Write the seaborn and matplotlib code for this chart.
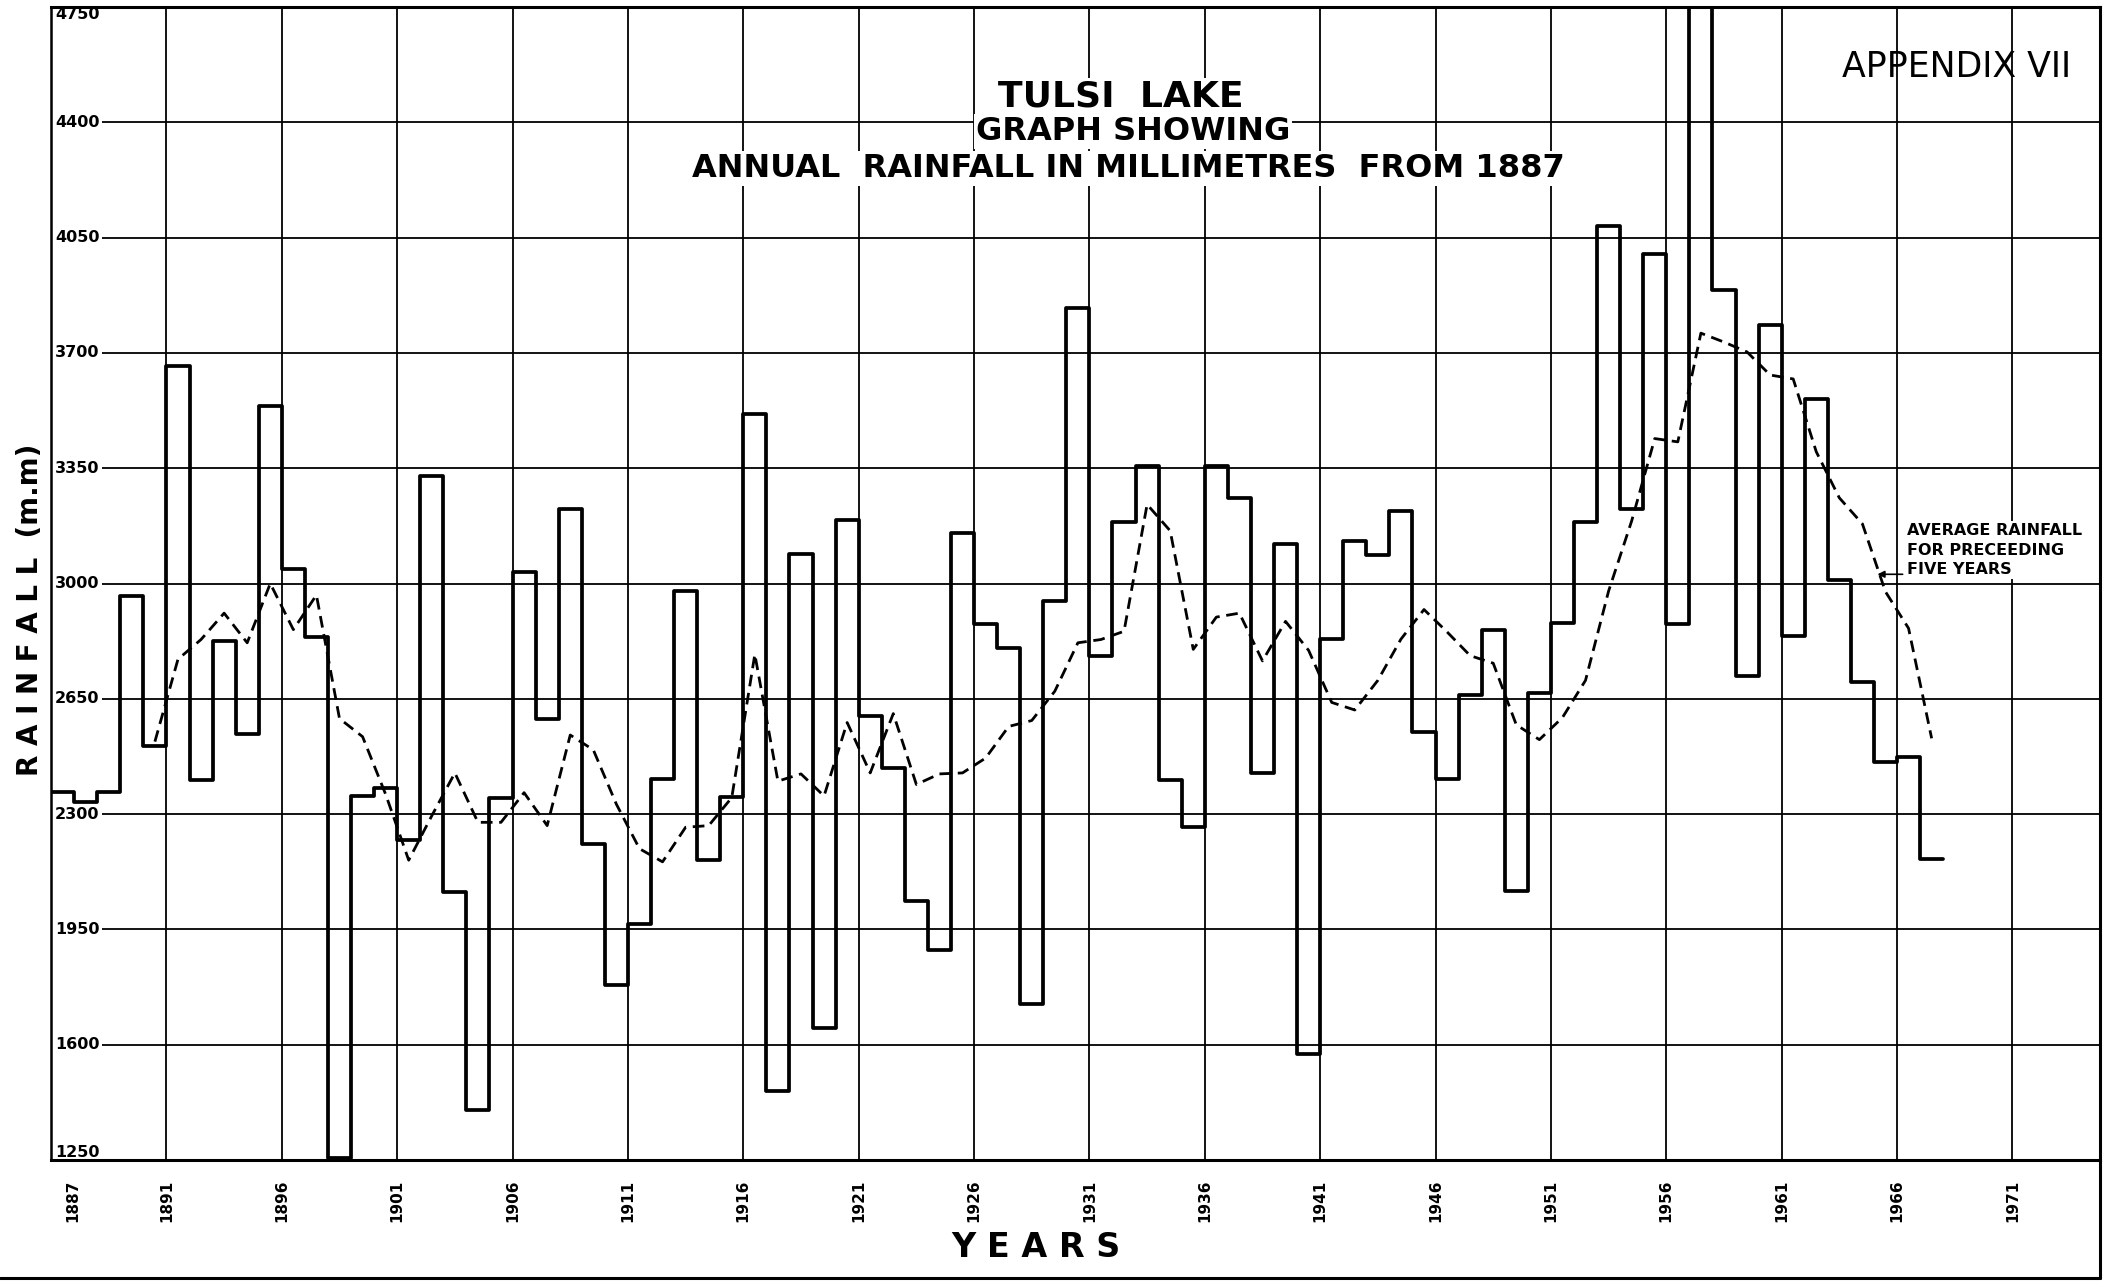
"""Tulsi Lake annual rainfall since 1887 (Appendix VII), redrawn as a step chart."""

import matplotlib.pyplot as plt
import pandas as pd
import seaborn as sns
from matplotlib.lines import Line2D
from matplotlib.transforms import ScaledTranslation


OUT_PATH = "out.png"

# annual rainfall in mm, one value per year
YEARS = list(range(1887, 1969))
RAINFALL = [
    2368, 2338, 2368, 2961, 2508, 3661, 2402, 2826, 2542, 3540,  # 1887-1896
    3045, 2837, 1255, 2356, 2380, 2221, 3327, 2063, 1401, 2350,  # 1897-1906
    3034, 2589, 3226, 2210, 1781, 1966, 2406, 2977, 2160, 2352,  # 1907-1916
    3515, 1458, 3090, 1652, 3192, 2598, 2440, 2036, 1887, 3153,  # 1917-1926
    2876, 2803, 1724, 2948, 3835, 2781, 3187, 3357, 2402, 2262,  # 1927-1936
    3357, 3260, 2424, 3120, 1571, 2831, 3129, 3086, 3219, 2548,  # 1937-1946
    2408, 2661, 2860, 2067, 2668, 2880, 3187, 4084, 3226, 4000,  # 1947-1956
    2876, 4750, 3892, 2718, 3786, 2842, 3560, 3011, 2702, 2458,  # 1957-1966
    2474, 2164,                                                  # 1967-1968
]

# dashed curve: average rainfall for the preceeding five years
AVG_YEARS = list(range(1891, 1969))
AVG_RAINFALL = [
    2520, 2770, 2830, 2910, 2820, 3000, 2860, 2965, 2590, 2535,  # 1891-1900
    2360, 2160, 2295, 2425, 2275, 2275, 2365, 2265, 2540, 2495,  # 1901-1910
    2330, 2195, 2155, 2260, 2265, 2350, 2785, 2400, 2422, 2355,  # 1911-1920
    2578, 2425, 2605, 2390, 2422, 2425, 2470, 2566, 2584, 2673,  # 1921-1930
    2820, 2830, 2855, 3240, 3160, 2800, 2898, 2910, 2765, 2885,  # 1931-1940
    2797, 2639, 2616, 2706, 2831, 2921, 2853, 2781, 2758, 2571,  # 1941-1950
    2526, 2593, 2706, 2977, 3190, 3440, 3430, 3760, 3733, 3703,  # 1951-1960
    3633, 3621, 3400, 3260, 3181, 2975, 2864, 2530,              # 1961-1968
]

Y_TICKS = [1250, 1600, 1950, 2300, 2650, 3000, 3350, 3700, 4050, 4400, 4750]
GRID_YEARS = list(range(1887, 1973, 5))
YEAR_LABELS = [
    "1887", "1891", "1896", "1901", "1906", "1911", "1916", "1921", "1926",
    "1931", "1936", "1941", "1946", "1951", "1956", "1961", "1966", "1971",
]

TITLE_LINES = [
    ("TULSI  LAKE", 0.522, 0.922, 26),
    ("GRAPH SHOWING", 0.528, 0.892, 23),
    ("ANNUAL  RAINFALL IN MILLIMETRES  FROM 1887", 0.526, 0.860, 23),
]


def main():
    sns.set_theme(style="white", rc={
        "text.color": "black",
        "xtick.color": "black",
        "ytick.color": "black",
        "axes.labelcolor": "black",
    })
    plt.rcParams["font.family"] = ["DejaVu Sans"]

    fig = plt.figure(figsize=(21.1, 12.83), dpi=100)
    ax = fig.add_axes([0.0242, 0.0959, 0.9711, 0.8986])

    # staircase: each year held flat until the next; last year closed off
    steps = pd.DataFrame({
        "year": YEARS + [YEARS[-1] + 1],
        "rain": RAINFALL + [RAINFALL[-1]],
    })
    sns.lineplot(
        data=steps, x="year", y="rain", drawstyle="steps-post",
        color="black", linewidth=2.7, errorbar=None, ax=ax, zorder=3,
    )

    avg = pd.DataFrame({
        "year": [y + 0.5 for y in AVG_YEARS],
        "rain": AVG_RAINFALL,
    })
    sns.lineplot(
        data=avg, x="year", y="rain", color="black", linewidth=2.0,
        linestyle=(0, (4.2, 2.4)), errorbar=None, ax=ax, zorder=3,
    )

    ax.set_xlim(1887, 1975.8)
    ax.set_ylim(1250, 4750)
    ax.set_xlabel("")
    ax.set_ylabel("")

    ax.set_xticks(GRID_YEARS)
    ax.set_xticklabels(YEAR_LABELS, rotation=90, fontsize=11, fontweight="bold")
    ax.set_yticks(Y_TICKS)
    ax.tick_params(axis="x", length=0, pad=14)
    ax.tick_params(axis="y", length=0, labelleft=False)
    first = ax.get_xticklabels()[0]
    first.set_transform(
        first.get_transform() + ScaledTranslation(0.22, 0, fig.dpi_scale_trans)
    )

    ax.set_axisbelow(True)
    ax.grid(True, color="black", linewidth=1.3)
    for side, width in [("left", 1.8), ("bottom", 2.2), ("top", 2.2), ("right", 2.2)]:
        ax.spines[side].set_visible(True)
        ax.spines[side].set_color("black")
        ax.spines[side].set_linewidth(width)

    # rainfall values written inside the frame, breaking the grid lines
    for value in Y_TICKS:
        va = "top" if value == Y_TICKS[-1] else "bottom" if value == Y_TICKS[0] else "center"
        ax.text(
            0.002, value, str(value), transform=ax.get_yaxis_transform(),
            ha="left", va=va, fontsize=11.5, fontweight="bold", zorder=2.2,
            bbox=dict(facecolor="white", edgecolor="none", pad=2),
        )

    for text, x, y, size in TITLE_LINES:
        ax.text(
            x, y, text, transform=ax.transAxes, ha="center", va="center",
            fontsize=size, fontweight="bold", zorder=4,
            bbox=dict(facecolor="white", edgecolor="none", pad=1.5),
        )

    ax.text(
        0.930, 0.948, "APPENDIX VII", transform=ax.transAxes,
        ha="center", va="center", fontsize=25, zorder=4,
    )

    ax.text(
        0.906, 0.529, "AVERAGE RAINFALL\nFOR PRECEEDING\nFIVE YEARS",
        transform=ax.transAxes, ha="left", va="center", fontsize=11.5,
        fontweight="bold", linespacing=1.4, zorder=4,
        bbox=dict(facecolor="white", edgecolor="none", pad=1),
    )
    ax.annotate(
        "", xy=(0.890, 0.508), xytext=(0.905, 0.508), xycoords="axes fraction",
        arrowprops=dict(arrowstyle="-|>", color="black", lw=1.2, mutation_scale=10),
        zorder=4,
    )

    fig.text(0.491, 0.0273, "Y E A R S", ha="center", va="center",
             fontsize=24, fontweight="bold")
    fig.text(0.0142, 0.525, "R A I N F A L L  (m.m)", ha="center", va="center",
             rotation=90, fontsize=20, fontweight="bold")

    # outer frame of the sheet below the graph
    fig.add_artist(Line2D([0, 0.9953], [0.0039, 0.0039], color="black",
                          linewidth=2.2, transform=fig.transFigure))
    fig.add_artist(Line2D([0.9953, 0.9953], [0.0039, 0.0959], color="black",
                          linewidth=2.2, transform=fig.transFigure))

    fig.savefig(OUT_PATH, dpi=100, facecolor="white")
    plt.close(fig)


if __name__ == "__main__":
    main()
